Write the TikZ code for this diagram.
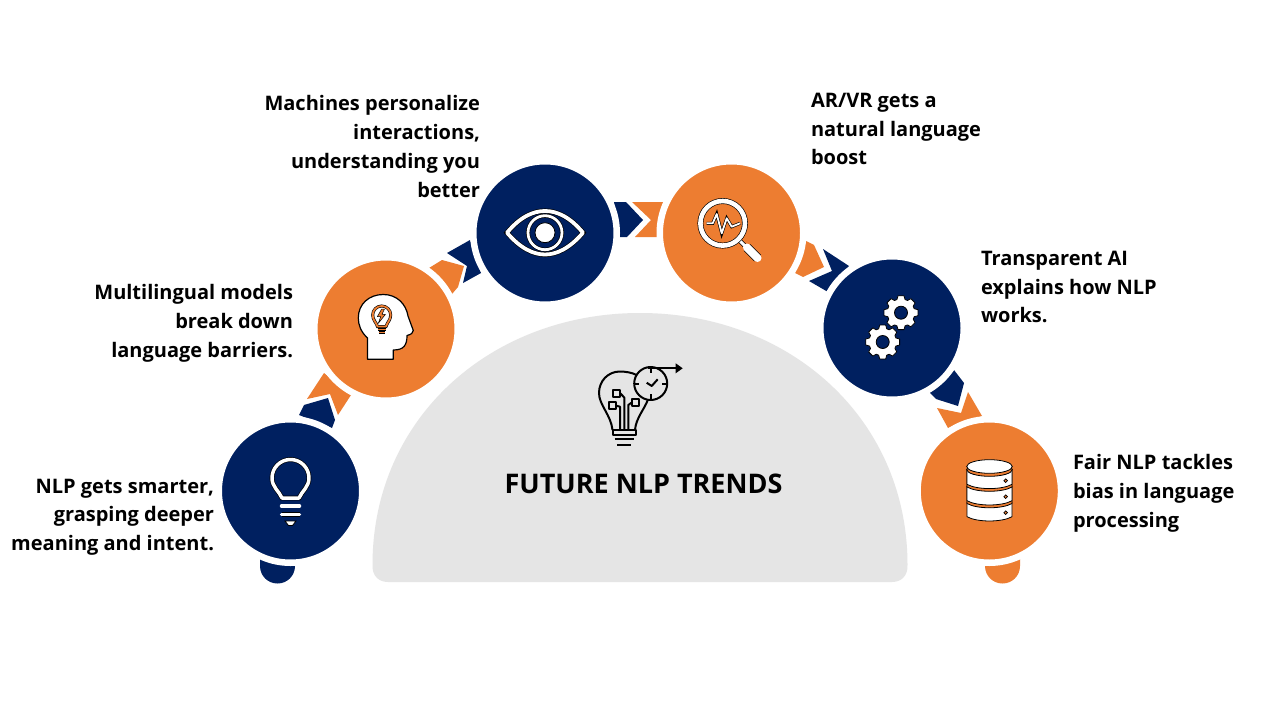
\documentclass[tikz,border=0pt]{standalone}
\usepackage{fontspec}
\setmainfont{Open Sans}
\definecolor{navy}{HTML}{002060}
\definecolor{orng}{HTML}{ED7D31}
\definecolor{pale}{HTML}{E5E5E5}
\tikzset{
  disc/.style={circle,draw=white,line width=6.5pt,minimum size=143.5pt,inner sep=0pt,outer sep=0pt},
  label/.style={inner sep=0pt,outer sep=0pt,font=\fontsize{20}{28.8}\selectfont\bfseries},
  wl/.style={draw=white,line width=#1,preaction={draw=black,line width=#1+1.3pt}},
  ol/.style={draw=orng,line width=#1,preaction={draw=black,line width=#1+1.2pt}},
  thin black/.style={draw=black,line width=0.8pt},
  ic/.style={draw=black,line width=2pt,line join=round}
}
\newcommand{\gearicon}[2]{%
  \begin{scope}[shift={(#1,#2)}]
    \filldraw[fill=white,thin black,line join=round] (-17:13.8)
      \foreach \a in {0,45,...,315}{ -- (\a-17:13.8) -- (\a-10:17.2) -- (\a+10:17.2) -- (\a+17:13.8)} -- cycle;
    \filldraw[fill=navy,thin black] (0,0) circle[radius=6.5];
  \end{scope}}
\newcommand{\dbbody}[3]{%
  \filldraw[fill=#3,thin black,line join=round] (967,#1) -- (967,#2) .. controls (977,#2+5.7) and (1002,#2+5.7) .. (1012,#2) -- (1012,#1) -- cycle;}
\begin{document}
\begin{tikzpicture}[x=1pt,y=-1pt]
\useasboundingbox (0,0) rectangle (1280,720);
\fill[white] (0,0) rectangle (1280,720);
% central dome
\fill[pale] (388,582) .. controls (378,582) and (372,575) .. (372.5,565)
  .. controls (372.5,417) and (492,313) .. (640,313)
  .. controls (788,313) and (907.5,417) .. (907.5,565)
  .. controls (908,575) and (902,582) .. (892,582) -- cycle;
% arrow pieces
\fill[navy] (299,415) -- (304,405) -- (328,398) -- (335,420) -- (332,428) -- cycle;
\fill[orng] (307,399) -- (324,373) -- (351,395) -- (338,415) -- (330,394) -- cycle;
\fill[orng] (429,268) -- (442,260) -- (464,266) -- (458,287) -- (452,294) -- cycle;
\fill[navy] (447,253) -- (470,240) -- (481,273) -- (463,283) -- (467,266) -- cycle;
\fill[navy] (614,202) -- (626,202) -- (643,220) -- (627,237) -- (620,237) -- cycle;
\fill[orng] (632,202) -- (663,202) -- (657,237) -- (635,237) -- (651,220) -- cycle;
\fill[orng] (806,241) -- (814,245) -- (824,267) -- (803,277) -- (795,273) -- cycle;
\fill[navy] (823,249) -- (849,266) -- (828,292) -- (809,281) -- (832,271) -- cycle;
\fill[navy] (954,370) -- (964,383) -- (958,406) -- (936,399) -- (929,392) -- cycle;
\fill[orng] (937,408) -- (961,413) -- (968,392) -- (982,416) -- (948,428) -- cycle;
% end caps
\fill[navy] (260,550) -- (260,566) .. controls (260,576) and (268,583.5) .. (277.5,583.5) .. controls (287,583.5) and (295,576) .. (295,566) -- (295,550) -- cycle;
\fill[orng] (985,550) -- (985,566) .. controls (985,576) and (993,583.5) .. (1002.5,583.5) .. controls (1012,583.5) and (1020,576) .. (1020,566) -- (1020,550) -- cycle;
% discs
\node[disc,fill=navy] (c1) at (290.5,491) {};
\node[disc,fill=orng] (c2) at (386,329) {};
\node[disc,fill=navy] (c3) at (545,233) {};
\node[disc,fill=orng] (c4) at (731.5,233) {};
\node[disc,fill=navy] (c5) at (892,328) {};
\node[disc,fill=orng] (c6) at (989.3,491) {};
% bulb icon
\draw[wl=3.5pt,line join=round] (282,498) .. controls (279,491) and (272,487) .. (272,478) .. controls (272,468) and (280,459.5) .. (290.5,459.5) .. controls (301,459.5) and (309,468) .. (309,478) .. controls (309,487) and (302,491) .. (299,498) -- cycle;
\draw[wl=3.5pt,line cap=round] (281.5,506) -- (299.5,506);
\draw[wl=3.5pt,line cap=round] (281.5,514.5) -- (299.5,514.5);
\filldraw[fill=white,thin black] (285,521) -- (296,521) -- (292.5,525.5) -- (288.5,525.5) -- cycle;
% head icon
\filldraw[fill=white,draw=black,line width=1.2pt,line join=round] (367.5,359.3) -- (367.5,338) .. controls (361,332) and (358.3,325) .. (358.3,318) .. controls (358.3,304) and (369,294.5) .. (383.3,294.5) .. controls (397,294.5) and (406,304) .. (408,316) -- (413.3,330.5) .. controls (413.3,333) and (411,334.5) .. (407,335.5) .. controls (407,345) and (404,350) .. (393.3,350) -- (393.3,359.3) -- cycle;
\draw[ol=1.8pt,line join=round] (377.5,326.5) .. controls (376,322) and (372.7,320) .. (372.7,315) .. controls (372.7,310) and (376.7,306) .. (381.7,306) .. controls (386.7,306) and (390.7,310) .. (390.7,315) .. controls (390.7,320) and (387.4,322) .. (386,326.5) -- cycle;
\draw[ol=1.6pt] (377.5,329.5) -- (386,329.5);
\draw[ol=1.6pt] (378.5,332.3) -- (385,332.3);
\filldraw[fill=orng,draw=black,line width=0.5pt,line join=round] (381.7,309) -- (377.3,316.7) -- (380.7,316.7) -- (378.3,323.3) -- (385.5,314.3) -- (382,314.3) -- (384.5,309) -- cycle;
% eye icon
\draw[wl=3.8pt,line join=round] (507,232.7) .. controls (520,217) and (533,211) .. (545,211) .. controls (557,211) and (570,217) .. (583,232.7) .. controls (570,248) and (557,254.5) .. (545,254.5) .. controls (533,254.5) and (520,248) .. (507,232.7) -- cycle;
\draw[wl=2.8pt] (545,232.7) circle[radius=17];
\filldraw[fill=white,thin black] (545,232.7) circle[radius=10];
% magnifier icon
\draw[wl=3pt] (740,241) -- (746,247);
\draw[wl=8pt,line cap=round] (747,247.5) -- (757.5,258);
\draw[wl=4.6pt] (722.7,223.3) circle[radius=22.3];
\draw[wl=1.8pt,line join=round] (706.5,223.3) -- (712.7,223.3) -- (716.7,214) -- (721.7,233.3) -- (726.7,218.3) -- (731.7,226.7) -- (740,223.3);
% gears
\gearicon{901}{312.7}
\gearicon{882.7}{342}
% database
\dbbody{502}{516.7}{white}
\dbbody{486}{503.5}{orng}
\dbbody{486}{500.7}{white}
\dbbody{470}{487}{orng}
\dbbody{470}{484.3}{white}
\filldraw[fill=orng,thin black] (989.5,469.5) ellipse[x radius=22.8,y radius=6.8];
\filldraw[fill=white,thin black] (989.5,466.5) ellipse[x radius=22.8,y radius=6.8];
\filldraw[fill=orng,draw=black,line width=0.7pt] (1005.7,480.7) circle[radius=1.8];
\filldraw[fill=orng,draw=black,line width=0.7pt] (1005.7,496.7) circle[radius=1.8];
\filldraw[fill=orng,draw=black,line width=0.7pt] (1005.7,512.7) circle[radius=1.8];
% central icon
\draw[ic] (636.5,375) .. controls (632,372.5) and (625,371.5) .. (620,371.5) .. controls (608,371.5) and (599,381) .. (599,393) .. controls (599,405) and (611,415) .. (612.5,430);
\draw[ic] (635,430) .. controls (636,418) and (644,410) .. (648,399.5);
\draw[ic] (612.5,430) rectangle (636,435);
\draw[ic] (614.5,439) -- (634,439);
\draw[ic] (617,445) -- (631,445);
\draw[ic] (650.7,383.5) circle[radius=16.5];
\draw[ic] (650.7,367) -- (650.7,373);
\draw[ic] (650.7,394) -- (650.7,400);
\draw[ic] (634.2,383.5) -- (639,383.5);
\draw[ic] (662,383.5) -- (667.2,383.5);
\draw[ic] (646.7,382.7) -- (651.7,386) -- (657.7,379.3);
\draw[ic] (648.3,368.3) -- (675.7,368.3);
\fill[black] (675.7,363.3) -- (682.7,368.3) -- (675.7,373.3) -- cycle;
\draw[ic] (613.2,389.8) rectangle (620.2,396.8);
\draw[ic] (609.2,402.2) rectangle (616.2,409.2);
\draw[ic] (631.5,399.2) rectangle (638.5,406.2);
\draw[ic] (620.2,393.3) -- (624.3,397.5) -- (624.3,430);
\draw[ic] (616.2,405.7) -- (620,406.7) -- (620,430);
\draw[ic] (631.5,402.7) -- (628.3,405) -- (628.3,430);
% labels
\node[label,anchor=east,align=right] (t1) at (214,517.2) {NLP gets smarter,\\grasping deeper\\meaning and intent.};
\node[label,anchor=east,align=right] (t2) at (293,323.5) {Multilingual models\\break down\\language barriers.};
\node[label,anchor=east,align=right] (t3) at (480,146.5) {Machines personalize\\interactions,\\understanding you\\better};
\node[label,anchor=west,align=left] (t4) at (811,129) {AR/VR gets a\\natural language\\boost};
\node[label,anchor=west,align=left] (t5) at (981,287) {Transparent AI\\explains how NLP\\works.};
\node[label,anchor=west,align=left] (t6) at (1073,493.5) {Fair NLP tackles\\bias in language\\processing};
\node[inner sep=0pt,font=\fontsize{27}{30}\selectfont\bfseries] (title) at (643.5,484) {FUTURE NLP TRENDS};
\end{tikzpicture}
\end{document}
